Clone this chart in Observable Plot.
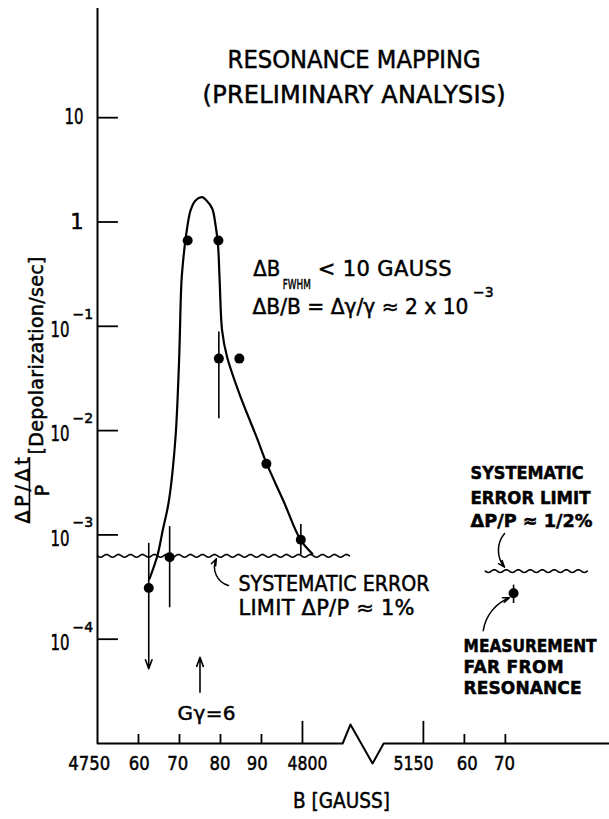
<!DOCTYPE html>
<html><head><meta charset="utf-8">
<script src="https://cdn.jsdelivr.net/npm/d3@7"></script>
<script src="https://cdn.jsdelivr.net/npm/@observablehq/plot@0.6"></script>
<style>
body{margin:0;background:#fff}
svg text{font-family:"DejaVu Sans",sans-serif;stroke:#000;stroke-width:0.5px;paint-order:stroke}
</style></head><body><div id="chart"></div>
<script>
// ---------- data ----------
const ptB    = [4762.5, 4767.6, 4772.0, 4779.5, 4779.6, 4784.6, 4791.2, 4799.6, 5172.0];
const ptRate = [3.1e-4, 6.1e-4, 0.665, 0.665, 0.049, 0.049, 4.8e-3, 9.0e-4, 2.76e-4];
const ptLo   = [null, 2.0e-4, null, null, 0.013, null, null, 6.4e-4, 2.2e-4];
const ptHi   = [8.3e-4, 1.2e-3, null, null, 0.088, null, null, 1.26e-3, 3.3e-4];
const limB = [4762.5], limFrom = [3.1e-4], limTo = [5.2e-5];   // downward (upper-limit) arrow

const fitB    = [4762.7, 4764.6, 4765.9, 4767.4, 4769.0, 4769.9, 4770.5, 4771.1, 4771.7, 4772.7, 4773.9, 4775.5, 4776.6, 4778.0, 4778.8, 4779.4, 4779.8, 4780.4, 4781.6, 4784.9, 4789.0, 4791.2, 4795.4, 4799.5, 4802.4];
const fitRate = [3.8e-4, 6.3e-4, 1.1e-3, 2.1e-3, 8.3e-3, 0.047, 0.275, 0.51, 0.79, 1.29, 1.61, 1.73, 1.61, 1.34, 0.93, 0.60, 0.275, 0.091, 0.051, 0.021, 8.3e-3, 4.9e-3, 2.1e-3, 9.0e-4, 6.6e-4];

const sysLeftB = [4750, 4811.5], sysLeftRate = 6.3e-4;     // ΔP/P ≈ 1%
const sysRightB = [5165.1, 5190.0], sysRightRate = 4.5e-4; // ΔP/P ≈ 1/2%
const gGammaB = 4775;                                      // Gγ = 6

const yTicks = [10, 1, 0.1, 0.01, 1e-3, 1e-4];
const yTickExp = ["", "", "−1", "−2", "−3", "−4"];
const xMajorTicks = [4800, 5150];
const xMinorTicks = [4760, 4770, 4780, 4790, 5160, 5170];
const xTickLabels = ["4750", "60", "70", "80", "90", "4800", "5150", "60", "70"];
const xTickLabelB = [4748.0, 4760.2, 4769.6, 4779.9, 4789.0, 4801.2, 5147.6, 5160.7, 5169.8];
const axisB    = [4750, 4809.8, 4811.7, 4817.1, 5140.3, 5195.4];  // x axis with break mark
const axisRate = [1e-5, 1e-5, 1.52e-5, 6.43e-6, 1e-5, 1e-5];

// ---------- broken axis mapping ----------
const SHIFT = 320.5;
const pos = b => (b > 5000 ? b - SHIFT : b);

// wavy line style (custom d3-style curve): draws a ripple between first and last point
function wavyCurve(context) {
  let pts = [];
  return {
    areaStart() {}, areaEnd() {},
    lineStart() { pts = []; },
    point(x, y) { pts.push([x, y]); },
    lineEnd() {
      if (pts.length < 2) return;
      const [x0, y0] = pts[0], [x1] = pts[pts.length - 1];
      context.moveTo(x0, y0);
      for (let x = x0; x <= x1; x += 1) context.lineTo(x, y0 + 1.4 * Math.sin((x - x0) / 12 * 2 * Math.PI));
    }
  };
}

const points = ptB.map((B, i) => ({B, rate: ptRate[i], lo: ptLo[i], hi: ptHi[i]}));
const errs = points.filter(d => d.lo != null || d.hi != null);
const fit = fitB.map((B, i) => ({B, rate: fitRate[i]}));
const T = (t, B, rate) => [{t, B, rate}];
const tx = d => pos(d.B);
const txt = (t, B, rate, o) => Plot.text(T(t, B, rate), {x: tx, y: "rate", text: "t", fill: "black", ...o});

const svg = Plot.plot({
  width: 609, height: 819,
  marginLeft: 97, marginRight: 0, marginTop: 8, marginBottom: 76,
  style: {background: "white", color: "black"},
  x: {domain: [4750, 4874.9], axis: null},
  y: {type: "log", domain: [1e-5, 111.4], axis: null},
  marks: [
    // axes
    Plot.ruleX([4750], {stroke: "black", strokeWidth: 2}),
    Plot.line(axisB.map((B, i) => ({B, rate: axisRate[i]})), {x: tx, y: "rate", stroke: "black", strokeWidth: 2}),
    Plot.ruleY(yTicks, {x1: 4750, x2: 4755.1, y: d => d, stroke: "black", strokeWidth: 1.8}),
    Plot.ruleX(xMajorTicks, {x: d => pos(d), y1: 1e-5, y2: 1.63e-5, stroke: "black", strokeWidth: 1.8}),
    Plot.ruleX(xMinorTicks, {x: d => pos(d), y1: 1e-5, y2: 1.22e-5, stroke: "black", strokeWidth: 1.8}),
    Plot.text(yTicks.filter((d, i) => !yTickExp[i]), {x: 4750, y: d => d, text: d => String(d), dx: -14, textAnchor: "end", fontSize: 21}),
    Plot.text(yTicks.filter((d, i) => yTickExp[i]), {x: 4750, y: d => d, text: d => "10", dx: -28, dy: 4, textAnchor: "end", fontSize: 21}),
    Plot.text(yTicks.filter((d, i) => yTickExp[i]), {x: 4750, y: d => d, text: d => yTickExp[yTicks.indexOf(d)], dx: -25, dy: -12, textAnchor: "start", fontSize: 14}),
    Plot.text(xTickLabels, {x: (d, i) => pos(xTickLabelB[i]), y: 1e-5, text: d => d, dy: 20, fontSize: 20}),
    // axis titles
    txt("B [GAUSS]", 4809.5, 1e-5, {dy: 57, fontSize: 22}),
    txt("[Depolarization/sec]", 4735.1, 0.0525, {rotate: -90, fontSize: 19}),
    txt("ΔP/Δt", 4731.7, 2.67e-3, {rotate: -90, fontSize: 19}),
    Plot.ruleX([4733.4], {y1: 5.52e-3, y2: 1.28e-3, stroke: "black", strokeWidth: 1.6}),
    txt("P", 4736.6, 2.67e-3, {rotate: -90, fontSize: 19}),
    // systematic error limits (wavy)
    Plot.line(sysLeftB.map(B => ({B, rate: sysLeftRate})), {x: tx, y: "rate", curve: wavyCurve, stroke: "black", strokeWidth: 1.6}),
    Plot.line(sysRightB.map(B => ({B, rate: sysRightRate})), {x: tx, y: "rate", curve: wavyCurve, stroke: "black", strokeWidth: 1.6}),
    // fitted resonance curve
    Plot.line(fit, {x: tx, y: "rate", curve: "catmull-rom", stroke: "black", strokeWidth: 2.2}),
    // error bars and points
    Plot.ruleX(errs, {x: tx, y1: d => d.lo ?? d.rate, y2: d => d.hi ?? d.rate, stroke: "black", strokeWidth: 1.6}),
    Plot.arrow(limB.map((B, i) => ({B, a: limFrom[i], b: limTo[i]})), {x1: tx, x2: tx, y1: "a", y2: "b", stroke: "black", strokeWidth: 1.6, headLength: 9, headAngle: 40}),
    Plot.dot(points, {x: tx, y: "rate", r: 5, fill: "black"}),
    // Gγ = 6 marker
    Plot.arrow([gGammaB], {x1: d => d, x2: d => d, y1: 3.1e-5, y2: 6.7e-5, stroke: "black", strokeWidth: 1.6, headLength: 9, headAngle: 40}),
    txt("Gγ=6", 4776.6, 1.94e-5, {fontSize: 20}),
    // annotation arrows
    Plot.arrow([0], {x1: pos(4781.95), y1: 3.27e-4, x2: pos(4779.0), y2: 5.9e-4, bend: 50, stroke: "black", strokeWidth: 1.5, headLength: 7, headAngle: 40}),
    Plot.arrow([0], {x1: pos(5169.8), y1: 1.03e-3, x2: pos(5169.8), y2: 4.9e-4, bend: -40, stroke: "black", strokeWidth: 1.5, headLength: 7, headAngle: 40}),
    Plot.arrow([0], {x1: pos(5164.6), y1: 1.21e-4, x2: pos(5171.0), y2: 2.5e-4, bend: 30, stroke: "black", strokeWidth: 1.5, headLength: 7, headAngle: 40}),
    // text annotations
    txt("RESONANCE MAPPING", 4812.6, 35.3, {fontSize: 24}),
    txt("(PRELIMINARY ANALYSIS)", 4812.6, 16.3, {fontSize: 24}),
    txt("ΔB", 4788.0, 0.351, {textAnchor: "start", fontSize: 21}),
    txt("FWHM", 4795.2, 0.25, {textAnchor: "start", fontSize: 14}),
    txt("< 10 GAUSS", 4803.7, 0.351, {textAnchor: "start", fontSize: 21}),
    txt("ΔB/B = Δγ/γ ≈ 2 x 10", 4787.8, 0.151, {textAnchor: "start", fontSize: 21}),
    txt("−3", 4841.6, 0.21, {textAnchor: "start", fontSize: 14}),
    txt("SYSTEMATIC ERROR", 4784.4, 3.34e-4, {textAnchor: "start", fontSize: 21}),
    txt("LIMIT ΔP/P ≈ 1%", 4784.4, 1.97e-4, {textAnchor: "start", fontSize: 21}),
    txt("SYSTEMATIC", 5161.5, 3.88e-3, {textAnchor: "start", fontSize: 18, fontWeight: "bold"}),
    txt("ERROR LIMIT", 5161.5, 2.23e-3, {textAnchor: "start", fontSize: 18, fontWeight: "bold"}),
    txt("ΔP/P ≈ 1/2%", 5161.5, 1.34e-3, {textAnchor: "start", fontSize: 18, fontWeight: "bold"}),
    txt("MEASUREMENT", 5159.8, 8.5e-5, {textAnchor: "start", fontSize: 17, fontWeight: "bold"}),
    txt("FAR FROM", 5159.8, 5.36e-5, {textAnchor: "start", fontSize: 17, fontWeight: "bold"}),
    txt("RESONANCE", 5159.8, 3.36e-5, {textAnchor: "start", fontSize: 17, fontWeight: "bold"})
  ]
});

document.getElementById("chart").append(svg);

// lettering widths to mimic the narrow stencil lettering of the original
const widths = {
  "RESONANCE MAPPING": 253, "(PRELIMINARY ANALYSIS)": 303, "ΔB": 27, "FWHM": 28, "< 10 GAUSS": 134,
  "ΔB/B = Δγ/γ ≈ 2 x 10": 216, "SYSTEMATIC ERROR": 191, "LIMIT ΔP/P ≈ 1%": 176, "SYSTEMATIC": 113,
  "ERROR LIMIT": 120, "ΔP/P ≈ 1/2%": 122, "MEASUREMENT": 133, "FAR FROM": 100, "RESONANCE": 118,
  "Gγ=6": 58, "B [GAUSS]": 97, "[Depolarization/sec]": 198, "ΔP/Δt": 66,
  "4750": 42, "4800": 40, "5150": 40, "60": 21, "70": 21, "80": 21, "90": 21, "10": 19
};
d3.select(svg).selectAll("text").each(function () {
  const w = widths[this.textContent];
  if (!w) return;
  const natural = this.getComputedTextLength();
  this.setAttribute("textLength", w);
  this.setAttribute("lengthAdjust", natural > w ? "spacingAndGlyphs" : "spacing");
});
</script></body></html>
